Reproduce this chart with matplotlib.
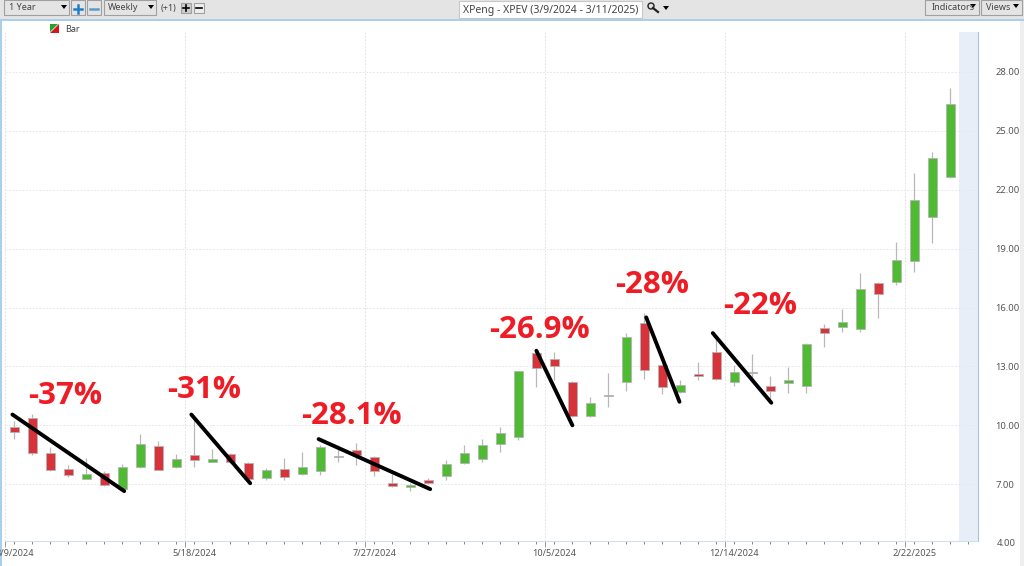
import matplotlib
matplotlib.use("Agg")
import matplotlib.pyplot as plt
from matplotlib.patches import Rectangle, Polygon, Circle

# weekly candles, XPEV
opens = [9.9, 10.35, 8.6, 7.8, 7.25, 7.55, 6.75, 7.9, 8.95, 7.9, 8.5, 8.15, 8.55, 8.1, 7.3, 7.8, 7.5,
         7.65, 8.4, 8.75, 8.4, 7.05, 6.85, 7.2, 7.4, 8.1, 8.3, 9.05, 9.4, 13.7, 13.4, 12.2, 10.5, 11.5,
         12.2, 15.2, 13.05, 11.7, 12.6, 13.75, 12.2, 12.65, 12.0, 12.15, 12.0, 14.95, 15.0, 14.9, 17.25,
         17.3, 18.35, 20.6, 22.65]
closes = [9.65, 8.6, 7.7, 7.45, 7.5, 6.95, 7.9, 9.05, 7.75, 8.3, 8.25, 8.3, 8.15, 7.25, 7.75, 7.35, 7.9,
          8.9, 8.45, 8.5, 7.65, 6.9, 6.95, 7.05, 8.05, 8.6, 9.0, 9.6, 12.75, 12.9, 13.0, 10.5, 11.15, 11.55,
          14.5, 12.8, 11.95, 12.05, 12.5, 12.35, 12.7, 12.7, 11.75, 12.3, 14.15, 14.7, 15.25, 16.95, 16.7,
          18.4, 21.5, 23.6, 26.35]
highs = [10.2, 10.6, 8.9, 8.0, 8.35, 7.65, 8.05, 9.55, 9.2, 8.55, 10.3, 8.8, 8.6, 8.15, 7.85, 8.35, 8.65,
         9.0, 9.0, 9.1, 8.45, 7.5, 7.05, 7.3, 8.25, 9.0, 9.3, 9.9, 12.75, 13.9, 13.75, 12.25, 11.45, 12.65,
         14.7, 15.7, 13.1, 12.3, 13.25, 14.6, 13.05, 13.65, 12.5, 12.95, 14.2, 15.15, 15.95, 17.75, 17.3,
         19.35, 22.85, 23.9, 27.2]
lows = [9.3, 8.5, 7.65, 7.35, 7.25, 6.9, 6.7, 7.85, 7.7, 7.85, 7.9, 8.15, 8.1, 7.2, 7.2, 7.2, 7.45, 7.45,
        8.15, 8.0, 7.4, 6.85, 6.65, 7.0, 7.2, 8.05, 8.15, 8.65, 9.25, 11.95, 12.3, 10.45, 10.4, 10.95, 11.75,
        12.35, 11.6, 11.65, 12.3, 12.3, 12.0, 12.2, 11.3, 11.65, 11.65, 14.0, 14.75, 14.75, 15.45, 17.15,
        17.8, 19.3, 22.6]

date_labels = ["3/9/2024", "5/18/2024", "7/27/2024", "10/5/2024", "12/14/2024", "2/22/2025"]
date_weeks = [0, 10, 20, 30, 40, 50]
price_ticks = [4, 7, 10, 13, 16, 19, 22, 25, 28]

# drawn-on drawdown lines, in weeks and price
line_x0 = [0.39, 10.33, 17.4, 29.5, 35.6, 39.3]
line_y0 = [10.55, 10.55, 9.3, 13.8, 15.5, 14.7]
line_x1 = [6.6, 13.6, 23.6, 31.5, 37.45, 42.55]
line_y1 = [6.65, 7.05, 6.75, 10.0, 11.2, 11.15]
drop_labels = ["-37%", "-31%", "-28.1%", "-26.9%", "-28%", "-22%"]
label_x = [65, 204, 351, 539, 652, 760]
label_y = [396, 390, 416, 330, 285, 306]

GREEN = "#4fbb32"
RED = "#d8323a"
EDGE = "#b4b4b4"
TXT = "#555555"

fig = plt.figure(figsize=(10.24, 5.66), dpi=100)
plt.rcParams["font.family"] = ["Noto Sans", "DejaVu Sans"]

# chart area placed by pixels
left, right, top, bottom = 5.4, 978, 32, 541
ax = fig.add_axes([left / 1024, 1 - bottom / 566, (right - left) / 1024, (bottom - top) / 566])
ax.set_xlim(0, (right - left) / 18)
ax.set_ylim(28 - (bottom - 72) / 19.63, 28 + (72 - top) / 19.63)

ax.axvspan(53.0, (right - left) / 18, color="#e8eef7", lw=0, zorder=0)
for p in price_ticks[1:]:
    ax.axhline(p, color="#e8e8e8", lw=0.7, ls=(0, (2, 1.5)), zorder=1)
for w in date_weeks:
    ax.axvline(w, color="#e4e4e4", lw=0.7, ls=(0, (2, 1.5)), zorder=1)

for i in range(len(opens)):
    x = i + 0.5
    col = GREEN if closes[i] >= opens[i] else RED
    ax.plot([x, x], [lows[i], highs[i]], color="#b8b8b8", lw=0.9, zorder=2, solid_capstyle="butt")
    lo = min(opens[i], closes[i])
    hi = max(opens[i], closes[i])
    ax.add_patch(Rectangle((x - 0.26, lo), 0.52, hi - lo, facecolor=col, edgecolor=EDGE, lw=0.6, zorder=3))

for i in range(len(line_x0)):
    ax.plot([line_x0[i], line_x1[i]], [line_y0[i], line_y1[i]], color="black", lw=2.8, zorder=5,
            solid_capstyle="round")

for s in ["top", "left"]:
    ax.spines[s].set_visible(False)
ax.spines["right"].set_color("#a9c6de")
ax.spines["right"].set_linewidth(0.8)
ax.spines["bottom"].set_color("#cfe1f0")
ax.spines["bottom"].set_linestyle((0, (1, 1)))
ax.yaxis.tick_right()
ax.set_yticks(price_ticks[1:])
ax.set_yticklabels(["%.2f" % p for p in price_ticks[1:]])
ax.tick_params(axis="y", length=0, pad=12.5, labelsize=6.8, labelcolor=TXT)
ax.set_xticks([i + 0.5 for i in range(len(opens) + 1)])
ax.set_xticklabels([])
ax.set_xticks(date_weeks, minor=True)
ax.tick_params(axis="x", which="major", length=2, width=0.7, color="#888888")
ax.tick_params(axis="x", which="minor", length=4, width=0.7, color="#999999")

# overlay in pixels for the app toolbar and the hand-written labels
ov = fig.add_axes([0, 0, 1, 1], facecolor="none")
ov.set_xlim(0, 1024)
ov.set_ylim(566, 0)
ov.axis("off")

ov.text(1006.5, 543, "4.00", ha="center", va="center", fontsize=6.8, color=TXT)
clip = Rectangle((3, 540), 1021, 26, transform=ov.transData)
for w, lab in zip(date_weeks, date_labels):
    t = ov.text(5.4 + 18 * w + 9, 554, lab, ha="center", va="center", fontsize=6.6, color=TXT)
    t.set_clip_path(clip)

for x, y, s in zip(label_x, label_y, drop_labels):
    ov.text(x, y, s, ha="center", va="center", fontsize=22.5, color="#ee1c25", fontweight="bold",
            family="Open Sans", zorder=10)

# toolbar
ov.add_patch(Rectangle((0, 0), 1024, 19, fc="#e4e4e4", ec="none"))
ov.add_patch(Rectangle((0, 19), 1024, 2, fc="#a9cfea", ec="none"))
ov.add_patch(Rectangle((0, 19), 2, 547, fc="#a9cfea", ec="none"))
ov.add_patch(Rectangle((1020, 21), 4, 545, fc="#eeeeee", ec="none"))


def box(x0, x1, y0=0, y1=15, fc="#e4e4e4", ec="#a0a0a0"):
    ov.add_patch(Rectangle((x0, y0), x1 - x0, y1 - y0, fc=fc, ec=ec, lw=0.8))


def arrow(x, y):
    ov.add_patch(Polygon([(x - 3, y - 2), (x + 3, y - 2), (x, y + 2)], fc="black", ec="none"))


box(4, 69)
ov.text(9, 8, "1 Year", fontsize=6.5, color="#444444", va="center")
arrow(64, 7)
box(71, 85)
box(87, 101)
ov.plot([74, 82], [9, 9], color="#1f7fc4", lw=1.8)
ov.plot([78, 78], [5, 13], color="#1f7fc4", lw=1.8)
ov.plot([90, 98], [9, 9], color="#5b9cc9", lw=1.8)
box(104, 156)
ov.text(108, 8, "Weekly", fontsize=6.5, color="#444444", va="center")
arrow(151, 7)
ov.text(161, 8, "(+1)", fontsize=6.5, color="#444444", va="center")
box(181, 191, 3, 13, fc="#cccccc")
box(194, 204, 3, 13, fc="#eeeeee")
ov.plot([183, 189], [8, 8], color="black", lw=1.2)
ov.plot([186, 186], [5, 11], color="black", lw=1.2)
ov.plot([196, 202], [8, 8], color="black", lw=1.2)
box(459, 642, 1, 18, fc="white", ec="#c8c8c8")
ov.text(551, 10, "XPeng - XPEV (3/9/2024 - 3/11/2025)", ha="center", va="center", fontsize=7.5, color="#444444")
ov.add_patch(Circle((651, 6), 3, fc="none", ec="#222222", lw=1))
ov.plot([653, 658], [8, 12], color="#222222", lw=1.6)
arrow(666, 8)
box(925, 979)
ov.text(932, 8, "Indicators", fontsize=6.5, color="#444444", va="center")
arrow(973, 6)
box(981, 1022)
ov.text(986, 8, "Views", fontsize=6.5, color="#444444", va="center")
arrow(1016, 6)

# legend swatch
ov.add_patch(Polygon([(50, 24), (58, 24), (50, 32)], fc="#22a52a", ec="none"))
ov.add_patch(Polygon([(59, 24), (59, 33), (50, 33)], fc="#d8141c", ec="none"))
ov.text(65, 29, "Bar", fontsize=6.5, color="#444444", va="center")

fig.savefig("out.png", dpi=100)
